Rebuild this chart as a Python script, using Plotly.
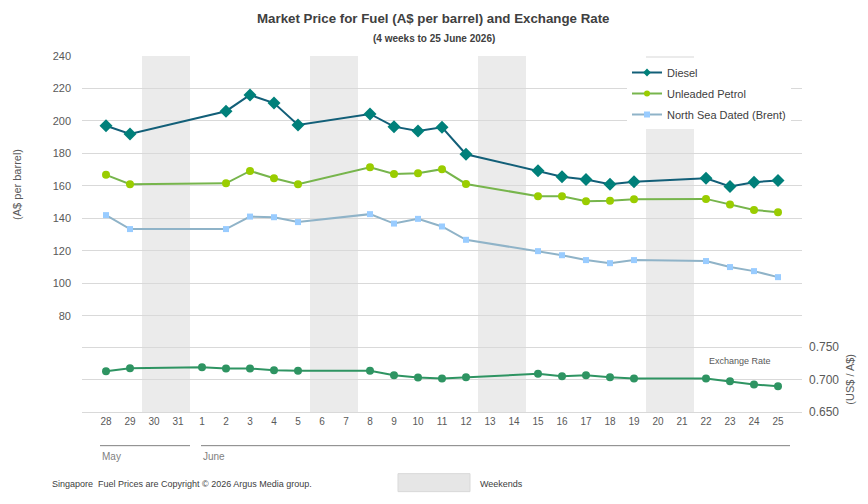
import plotly.graph_objects as go

days = ["28", "29", "30", "31"] + [str(d) for d in range(1, 26)]
weekend_pairs = [("30", "31"), ("6", "7"), ("13", "14"), ("20", "21")]
N = None
diesel = [197, 192, N, N, N, 206, 216, 211, 197.5, N, N, 204.3, 196.5, 193.8, 196.1, 179.5,
          N, N, 169.4, 165.7, 163.9, 161, 162.5, N, N, 164.7, 159.6, 162.3, 163.3]
petrol = [166.8, 161, N, N, N, 161.6, 169.2, 164.7, 161, N, N, 171.5, 167.4, 167.8, 170.3, 161.2,
          N, N, 153.6, 153.6, 150.6, 150.8, 151.8, N, N, 152, 148.5, 145.2, 143.8]
brent = [142, 133.4, N, N, N, 133.4, 141.1, 140.7, 137.7, N, N, 142.6, 136.8, 139.7, 135, 126.8,
         N, N, 119.8, 117.3, 114.3, 112.4, 114.3, N, N, 113.7, 110, 107.5, 103.8]
fx = [0.7129, 0.7175, N, N, 0.719, 0.717, 0.717, 0.7144, 0.7134, N, N, 0.7134, 0.7067, 0.703, 0.7016,
      0.7036, N, N, 0.7088, 0.7052, 0.7067, 0.7036, 0.7016, N, N, 0.7016, 0.6975, 0.6923, 0.6898]
left_ticks = [80, 100, 120, 140, 160, 180, 200, 220, 240]
right_ticks = [0.65, 0.70, 0.75]
right_ticktext = ["0.650", "0.700", "0.750"]
months = [("May", "28", "31"), ("June", "1", "25")]

FONT = "Arial, Liberation Sans, sans-serif"
TXT = "#595959"

series = [
    ("Diesel", diesel, "#125f78", "diamond", 10, "#00807a", 6),
    ("Unleaded Petrol", petrol, "#77b54c", "circle", 8, "#9acd00", 6),
    ("North Sea Dated (Brent)", brent, "#8fb3c8", "square", 6, "#99ccff", 6),
]

fig = go.Figure()
for i, (name, vals, lc, sym, ms, mc, lms) in enumerate(series):
    fig.add_trace(go.Scatter(x=days, y=vals, name=name, mode="lines+markers", connectgaps=True,
                             line=dict(color=lc, width=2),
                             marker=dict(symbol=sym, size=ms, color=mc), showlegend=False))
for i, (name, vals, lc, sym, ms, mc, lms) in enumerate(series):
    # legend-only entries with the smaller legend symbols
    fig.add_trace(go.Scatter(x=[None], y=[None], name=name, mode="lines+markers",
                             line=dict(color=lc, width=2),
                             marker=dict(symbol=sym, size=lms, color=mc), legendgroup=str(i)))
fig.add_trace(go.Scatter(x=days, y=fx, name="Exchange Rate", mode="lines+markers", connectgaps=True,
                         line=dict(color="#2e9462", width=2),
                         marker=dict(symbol="circle", size=8, color="#2e9462"),
                         yaxis="y2", showlegend=False))

idx = {d: i for i, d in enumerate(days)}
for a, b in weekend_pairs:
    fig.add_shape(type="rect", xref="x", yref="paper", x0=idx[a] - 0.5, x1=idx[b] + 0.5,
                  y0=0, y1=1, fillcolor="#ebebeb", line=dict(width=0), layer="below")

# plot area: x 82..802 px, y 56..412 px
L, R, T, B = 82, 802, 56, 412.3
W, H = R - L, B - T
def px(x): return (x - L) / W
def py(y): return (B - y) / H

for name, a, b in months:
    x0 = 100 if name == "May" else 201
    x1 = 190 if name == "May" else 790
    fig.add_shape(type="line", xref="paper", yref="paper", x0=px(x0), x1=px(x1), y0=py(446), y1=py(446),
                  line=dict(color="#808080", width=1))
    fig.add_annotation(text=name, xref="paper", yref="paper", x=px(x0), y=py(457), xanchor="left",
                       yanchor="middle", showarrow=False, font=dict(size=10, color="#7f7f7f", family=FONT))

fig.add_shape(type="rect", xref="paper", yref="paper", x0=px(398), x1=px(470), y0=py(474), y1=py(492),
              fillcolor="#e6e6e6", line=dict(color="#d9d9d9", width=1))
fig.add_annotation(text="Weekends", xref="paper", yref="paper", x=px(478), y=py(484), xanchor="left",
                   yanchor="middle", showarrow=False, font=dict(size=9, color="#404040", family=FONT))
fig.add_annotation(text="Singapore  Fuel Prices are Copyright © 2026 Argus Media group.", xref="paper", yref="paper",
                   x=px(50), y=py(484), xanchor="left", yanchor="middle", showarrow=False,
                   font=dict(size=9, color="#404040", family=FONT))
fig.add_annotation(text="<b>Market Price for Fuel (A$ per barrel) and Exchange Rate</b>", xref="paper", yref="paper",
                   x=px(433), y=py(18), xanchor="center", yanchor="middle", showarrow=False,
                   font=dict(size=13.3, color="#404040", family=FONT))
fig.add_annotation(text="<b>(4 weeks to 25 June 2026)</b>", xref="paper", yref="paper",
                   x=px(434), y=py(38), xanchor="center", yanchor="middle", showarrow=False,
                   font=dict(size=10, color="#404040", family=FONT))
fig.add_annotation(text="(A$ per barrel)", xref="paper", yref="paper", x=px(17), y=py(185),
                   xanchor="center", yanchor="middle", textangle=-90, showarrow=False,
                   font=dict(size=11, color=TXT, family=FONT))
fig.add_annotation(text="(US$ / A$)", xref="paper", yref="paper", x=px(850), y=py(380),
                   xanchor="center", yanchor="middle", textangle=-90, showarrow=False,
                   font=dict(size=11, color=TXT, family=FONT))
fig.add_annotation(text="Exchange Rate", xref="paper", yref="paper", x=px(740), y=py(361),
                   xanchor="center", yanchor="middle", showarrow=False,
                   font=dict(size=9, color=TXT, family=FONT))

fig.update_layout(
    width=868, height=504,
    margin=dict(l=L, r=868 - R, t=T, b=504 - B),
    paper_bgcolor="white", plot_bgcolor="white",
    font=dict(family=FONT, color=TXT),
    xaxis=dict(type="category", categoryorder="array", categoryarray=days, range=[-1, 29],
               showgrid=False, showline=True, linecolor="#d9d9d9", linewidth=1,
               ticks="", tickfont=dict(size=10, color=TXT)),
    yaxis=dict(range=[240 - H / 1.625, 240], tickvals=left_ticks, showgrid=True, gridcolor="#d9d9d9",
               gridwidth=1, zeroline=False, showline=False, ticks="", tickfont=dict(size=11, color=TXT),
               ticklabelstandoff=10),
    yaxis2=dict(range=[0.65, 0.65 + H / 650], overlaying="y", side="right", tickvals=right_ticks,
                ticktext=right_ticktext, showgrid=True, gridcolor="#d9d9d9", gridwidth=1,
                zeroline=False, showline=False, ticks="", tickfont=dict(size=12, color=TXT),
                ticklabelstandoff=6),
    legend=dict(x=px(627), y=py(58), xanchor="left", yanchor="top", bgcolor="white",
                font=dict(size=11, color="#404040", family=FONT), tracegroupgap=2,
                itemwidth=30),
    showlegend=True,
)

fig.write_html("out.html")
